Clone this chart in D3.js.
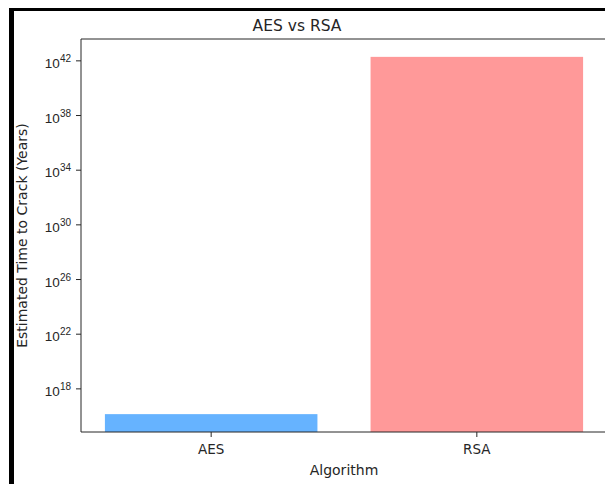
<!DOCTYPE html>
<html>
<head>
<meta charset="utf-8">
<script src="https://cdn.jsdelivr.net/npm/d3@7"></script>
<style>
  html, body { margin: 0; padding: 0; background: #fff; overflow: hidden; }
  svg { display: block; font-family: "DejaVu Sans", sans-serif; }
</style>
</head>
<body>
<svg id="chart" width="605" height="484"></svg>
<script>
// Estimated years to brute-force each algorithm
const algorithms = ["AES", "RSA"];
const crackYears = [1.3e16, 1.8e42];
const barColors = ["#66b3ff", "#ff9999"];
const yTickExponents = [18, 22, 26, 30, 34, 38, 42];

const W = 605, H = 484;
const plot = { left: 81, right: 607, top: 39, bottom: 432 };
const ink = "#262626";

const svg = d3.select("#chart");

svg.append("rect").attr("width", W).attr("height", H).attr("fill", "#fff");

// frame around the figure
svg.append("rect").attr("x", 9).attr("y", 8).attr("width", W - 9).attr("height", 3).attr("fill", "#000");
svg.append("rect").attr("x", 9).attr("y", 8).attr("width", 5).attr("height", H - 8).attr("fill", "#000");

// x: categorical positions, bar width 0.8 of the step
const x = d3.scaleBand()
  .domain(algorithms)
  .range([plot.left, plot.right])
  .paddingInner(0.2)
  .paddingOuter(0.09);

// y: log scale with a 5% margin in log space around the data
const lo = Math.log10(d3.min(crackYears));
const hi = Math.log10(d3.max(crackYears));
const m = 0.05 * (hi - lo);
const y = d3.scaleLog()
  .domain([Math.pow(10, lo - m), Math.pow(10, hi + m)])
  .range([plot.bottom, plot.top]);

// bars
svg.append("g")
  .selectAll("rect")
  .data(algorithms)
  .join("rect")
  .attr("x", d => x(d))
  .attr("width", x.bandwidth())
  .attr("y", (d, i) => y(crackYears[i]))
  .attr("height", (d, i) => plot.bottom - y(crackYears[i]))
  .attr("fill", (d, i) => barColors[i]);

// y axis with power-of-ten labels
const yTicks = yTickExponents.map(e => Math.pow(10, e));
const yAxis = d3.axisLeft(y)
  .tickValues(yTicks)
  .tickSize(5)
  .tickFormat("");
const gy = svg.append("g")
  .attr("transform", `translate(${plot.left},0)`)
  .call(yAxis);
gy.select(".domain").remove();
gy.selectAll(".tick line").attr("stroke", ink).attr("stroke-width", 1);
gy.selectAll(".tick").each(function(d) {
  const t = d3.select(this).append("text")
    .attr("x", -10)
    .attr("y", 7)
    .attr("text-anchor", "end")
    .attr("fill", ink)
    .attr("font-size", 13.5);
  t.append("tspan").text("10");
  t.append("tspan")
    .attr("dy", -6)
    .attr("font-size", 10)
    .text(Math.round(Math.log10(d)));
});

// x axis
const xAxis = d3.axisBottom(x).tickSize(5).tickPadding(7);
const gx = svg.append("g")
  .attr("transform", `translate(0,${plot.bottom})`)
  .call(xAxis);
gx.select(".domain").remove();
gx.selectAll(".tick line").attr("stroke", ink);
gx.selectAll(".tick text")
  .attr("fill", ink)
  .attr("font-size", 13.5)
  .attr("font-family", "DejaVu Sans, sans-serif");

// spines: left, top, bottom
const spines = svg.append("g").attr("stroke", ink).attr("stroke-width", 1).attr("fill", "none");
spines.append("line").attr("x1", plot.left).attr("x2", plot.left).attr("y1", plot.top).attr("y2", plot.bottom);
spines.append("line").attr("x1", plot.left).attr("x2", plot.right).attr("y1", plot.top).attr("y2", plot.top);
spines.append("line").attr("x1", plot.left).attr("x2", plot.right).attr("y1", plot.bottom).attr("y2", plot.bottom);

// title and axis labels
svg.append("text")
  .attr("x", 297).attr("y", 31)
  .attr("text-anchor", "middle")
  .attr("font-size", 15.5)
  .attr("fill", ink)
  .text("AES vs RSA");

svg.append("text")
  .attr("x", (plot.left + plot.right) / 2).attr("y", 475)
  .attr("text-anchor", "middle")
  .attr("font-size", 14)
  .attr("fill", ink)
  .text("Algorithm");

svg.append("text")
  .attr("transform", `translate(27,${(plot.top + plot.bottom) / 2}) rotate(-90)`)
  .attr("text-anchor", "middle")
  .attr("font-size", 14)
  .attr("fill", ink)
  .text("Estimated Time to Crack (Years)");
</script>
</body>
</html>
